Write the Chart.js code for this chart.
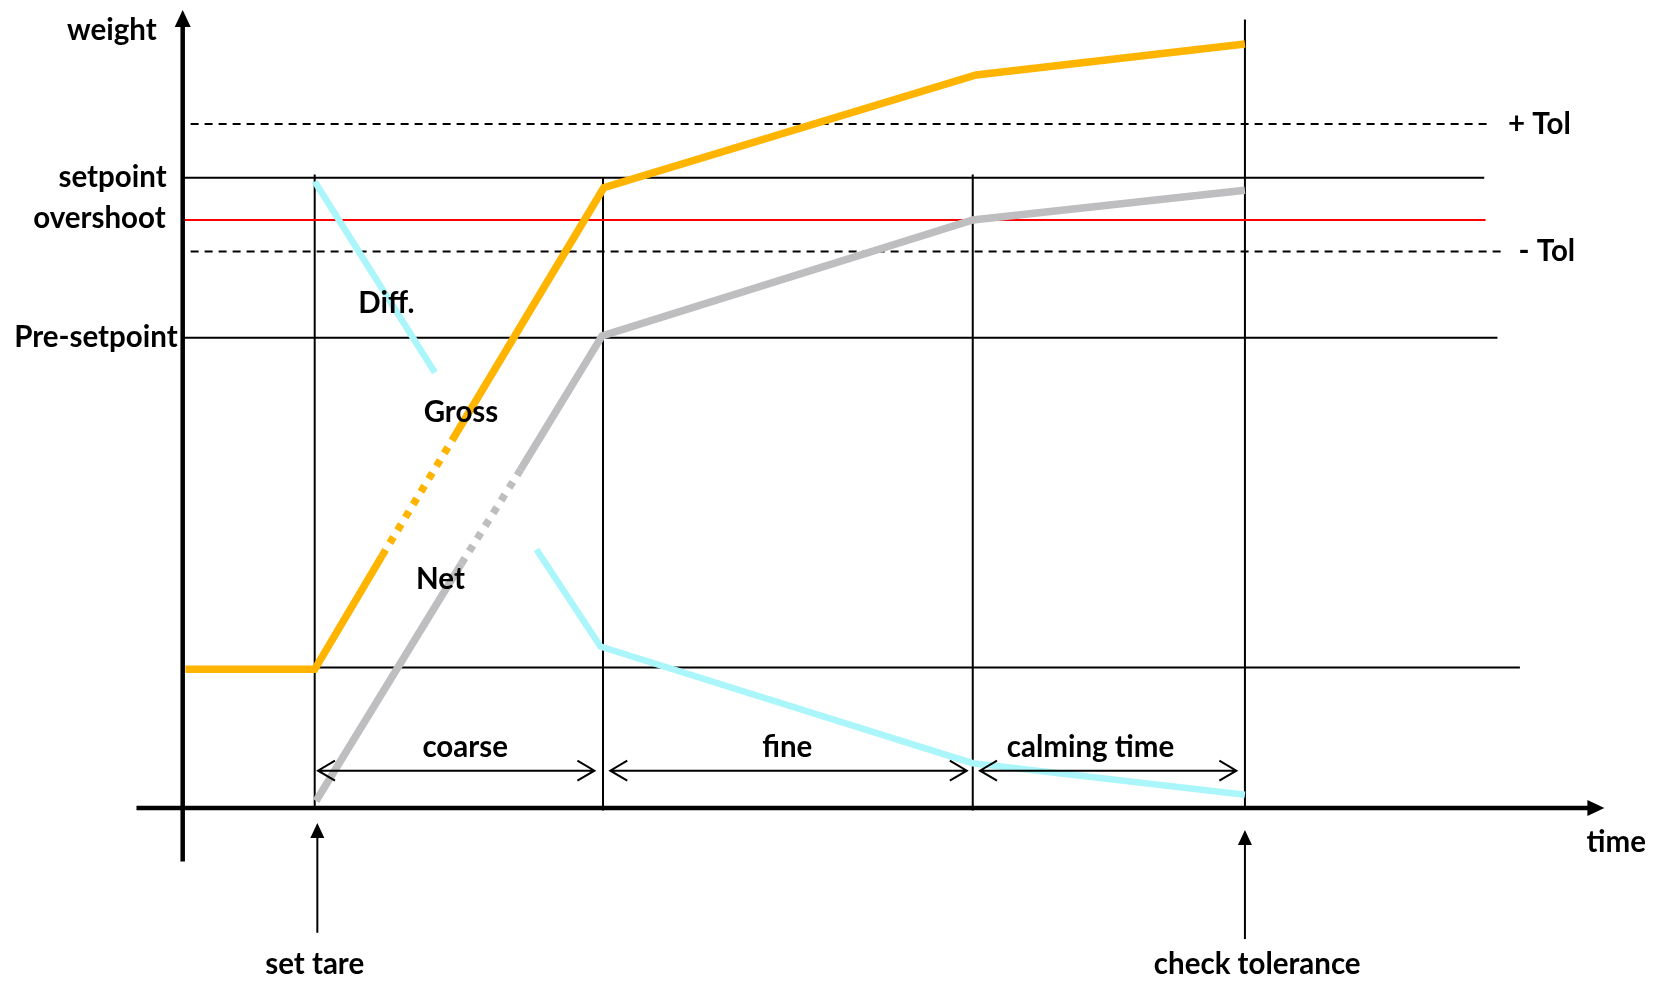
<!DOCTYPE html>
<html>
<head>
<meta charset="utf-8">
<script src="https://cdn.jsdelivr.net/npm/chart.js@4.4.1/dist/chart.umd.min.js"></script>
<style>
  html, body { margin: 0; padding: 0; background: #fff; }
  #wrap { width: 1656px; height: 983px; }
</style>
</head>
<body>
<div id="wrap"><canvas id="chart"></canvas></div>
<script>
// time in s, weight in % of setpoint
const phaseTimes = [1.0, 3.184, 5.985, 8.047];   // set tare, end coarse, end fine, check tolerance
const phaseNames = ['coarse', 'fine', 'calming time'];

const grossTime   = [0.02, 1.0, 1.51, 2.04, 3.19, 6.01, 8.047];
const grossWeight = [22.0, 22.0, 40.0, 58.3, 98.4, 116.3, 121.2];

const netTime   = [1.01, 2.11, 2.56, 3.177, 5.985, 8.047];
const netWeight = [1.1, 38.7, 53.7, 74.9, 93.3, 98.0];

const diffTime   = [1.0, 1.91, 2.68, 3.165, 5.985, 8.047];
const diffWeight = [99.4, 69.1, 41.0, 25.6, 7.1, 2.1];

const levelNames  = ['+ Tol', 'setpoint', 'overshoot', '- Tol', 'Pre-setpoint', 'tare'];
const levelValues = [108.5, 100, 93.3, 88.3, 74.6, 22.3];
const levelFrom   = [0.06, 0, 0, 0.06, 0, 1.0];
const levelTo     = [9.9, 9.86, 9.87, 10.02, 9.96, 10.13];

const toPoints = (xs, ys) => xs.map((x, i) => ({ x: x, y: ys[i] }));

const FONT = 'bold 29.5px Lato, "DejaVu Sans", sans-serif';

const datasets = [];

datasets.push({
  label: 'Gross',
  data: toPoints(grossTime, grossWeight),
  borderColor: 'rgb(255,180,0)',
  borderWidth: 7.5,
  borderJoinStyle: 'miter',
  segment: { borderDash: c => c.p0DataIndex === 2 ? [7, 8] : undefined },
  order: 1
});
datasets.push({
  label: 'Net',
  data: toPoints(netTime, netWeight),
  borderColor: 'rgb(190,190,192)',
  borderWidth: 7.5,
  borderJoinStyle: 'miter',
  segment: { borderDash: c => c.p0DataIndex === 1 ? [7, 8] : undefined },
  order: 1
});
datasets.push({
  label: 'Diff.',
  data: toPoints(diffTime, diffWeight),
  borderColor: 'rgb(170,246,250)',
  borderWidth: 6.5,
  borderJoinStyle: 'miter',
  segment: { borderColor: c => c.p0DataIndex === 1 ? 'rgba(0,0,0,0)' : undefined },
  order: 1
});

levelValues.forEach((v, i) => {
  const tol = levelNames[i].indexOf('Tol') >= 0;
  datasets.push({
    label: levelNames[i],
    data: [{ x: levelFrom[i], y: v }, { x: levelTo[i], y: v }],
    borderColor: levelNames[i] === 'overshoot' ? '#ff0000' : '#000',
    borderWidth: 2,
    borderDash: tol ? [8, 6] : [],
    order: 2
  });
});

// vertical phase lines
const phaseTop = [100.5, 100, 100.5, 125.1];
const phaseBottom = [0, -0.4, -0.4, 0];
phaseTimes.forEach((t, i) => {
  datasets.push({
    label: 'phase' + i,
    data: [{ x: t, y: phaseBottom[i] }, { x: t, y: phaseTop[i] }],
    borderColor: '#000',
    borderWidth: 2,
    order: 2
  });
});

const sketch = {
  id: 'sketch',
  afterDatasetsDraw(chart) {
    const ctx = chart.ctx;
    const sx = chart.scales.x, sy = chart.scales.y;
    const px = v => sx.getPixelForValue(v);
    const py = v => sy.getPixelForValue(v);
    const x0 = px(0), y0 = py(0);

    ctx.save();
    ctx.fillStyle = '#000';
    ctx.strokeStyle = '#000';

    // axes
    ctx.lineWidth = 4.5;
    ctx.beginPath();
    ctx.moveTo(x0, py(-8.5)); ctx.lineTo(x0, py(124));
    ctx.moveTo(px(-0.35), y0); ctx.lineTo(px(10.65), y0);
    ctx.stroke();
    const yTip = py(126.6), xTip = px(10.77);
    ctx.beginPath();
    ctx.moveTo(x0, yTip); ctx.lineTo(x0 - 8, yTip + 17); ctx.lineTo(x0 + 8, yTip + 17); ctx.closePath();
    ctx.fill();
    ctx.beginPath();
    ctx.moveTo(xTip, y0); ctx.lineTo(xTip - 17, y0 - 8); ctx.lineTo(xTip - 17, y0 + 8); ctx.closePath();
    ctx.fill();

    // dimension arrows between phases
    const yDim = py(5.92);
    const inset = 0.025;
    ctx.lineWidth = 2;
    for (let i = 0; i < phaseNames.length; i++) {
      const a = px(phaseTimes[i] + inset + (i > 0 ? 0.03 : 0));
      const b = px(phaseTimes[i + 1] - inset - (i === 1 ? 0.02 : 0.04));
      ctx.beginPath();
      ctx.moveTo(a, yDim); ctx.lineTo(b, yDim);
      ctx.moveTo(a + 17, yDim - 10); ctx.lineTo(a, yDim); ctx.lineTo(a + 17, yDim + 10);
      ctx.moveTo(b - 17, yDim - 10); ctx.lineTo(b, yDim); ctx.lineTo(b - 17, yDim + 10);
      ctx.stroke();
    }

    // event arrows below the time axis
    const events = [{ t: phaseTimes[0] + 0.02, tip: -2.4, end: -19.8 }, { t: phaseTimes[3], tip: -3.5, end: -20.8 }];
    events.forEach(e => {
      const x = px(e.t), yt = py(e.tip);
      ctx.beginPath();
      ctx.moveTo(x, yt + 10); ctx.lineTo(x, py(e.end));
      ctx.stroke();
      ctx.beginPath();
      ctx.moveTo(x, yt); ctx.lineTo(x - 7, yt + 15); ctx.lineTo(x + 7, yt + 15); ctx.closePath();
      ctx.fill();
    });

    // text
    ctx.font = FONT;
    ctx.textBaseline = 'middle';
    ctx.textAlign = 'right';
    ctx.fillText('weight', x0 - 26, py(123.3));
    ctx.fillText('setpoint', x0 - 16, py(levelValues[1]));
    ctx.fillText('overshoot', x0 - 17, py(levelValues[2]) - 1);
    ctx.fillText('Pre-setpoint', x0 - 5, py(levelValues[4]));

    ctx.textAlign = 'left';
    ctx.fillText(levelNames[0], px(10.04), py(levelValues[0]));
    ctx.fillText(levelNames[3], px(10.12), py(levelValues[3]));
    ctx.fillText('Diff.', px(1.33), py(80.1));

    ctx.textAlign = 'center';
    ctx.fillText('Gross', px(2.108), py(62.8));
    ctx.fillText('Net', px(1.953), py(36.2));
    const labelX = [2.14, 4.58, 6.877];
    phaseNames.forEach((n, i) => ctx.fillText(n, px(labelX[i]), py(9.6)));
    ctx.fillText('time', px(10.86), py(-5.4));
    ctx.fillText('set tare', px(1.0), py(-24.9));
    ctx.fillText('check tolerance', px(8.14), py(-24.9));
    ctx.restore();
  }
};

new Chart(document.getElementById('chart'), {
  type: 'scatter',
  data: { datasets: datasets.map(d => Object.assign({ showLine: true, pointRadius: 0, borderCapStyle: 'butt', fill: false }, d)) },
  options: {
    responsive: true,
    maintainAspectRatio: false,
    animation: false,
    layout: { padding: 0 },
    plugins: { legend: { display: false }, tooltip: { enabled: false } },
    scales: {
      x: { type: 'linear', display: false, min: -1.384, max: 11.161 },
      y: { type: 'linear', display: false, min: -27.77, max: 128.19 }
    }
  },
  plugins: [sketch]
});
</script>
</body>
</html>
